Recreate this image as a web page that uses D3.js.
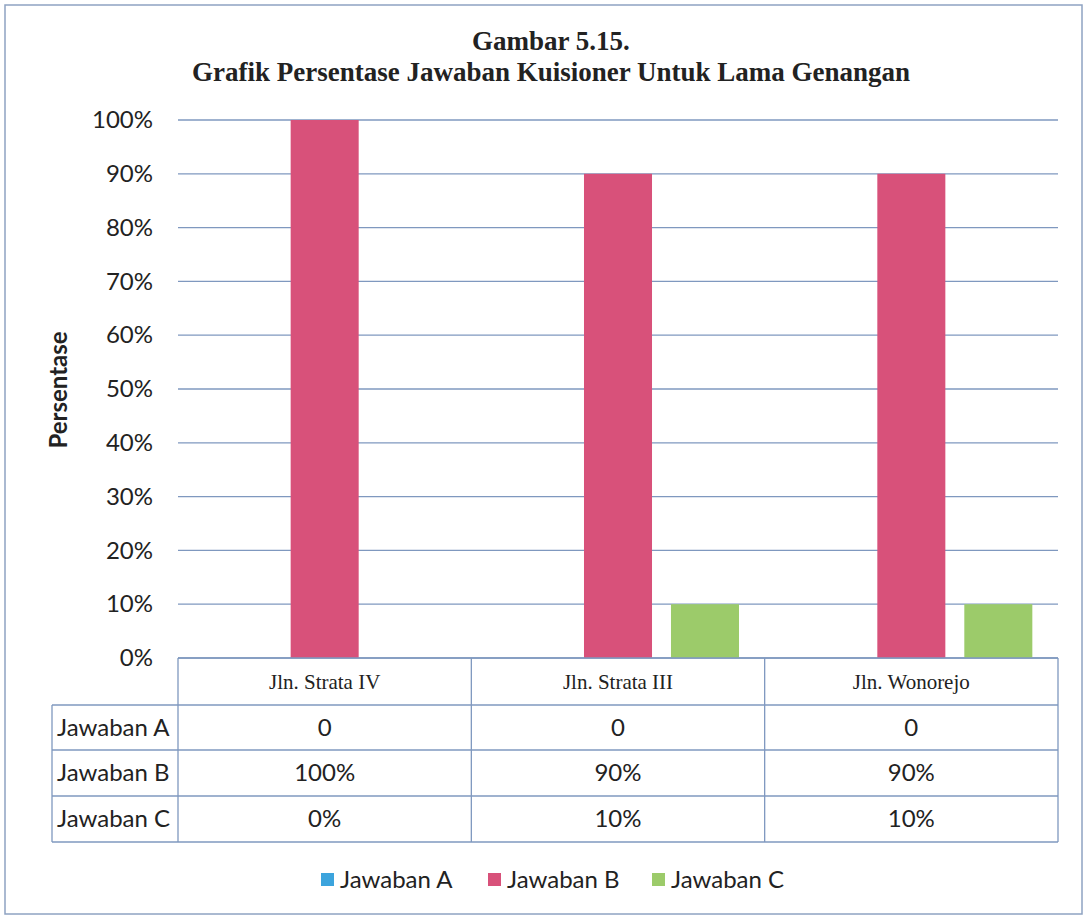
<!DOCTYPE html>
<html>
<head>
<meta charset="utf-8">
<title>Grafik Persentase Jawaban Kuisioner Untuk Lama Genangan</title>
<script src="https://cdnjs.cloudflare.com/ajax/libs/d3/7.8.5/d3.min.js"></script>
<style>
  body, html { margin: 0; padding: 0; background: #fff; }
  svg text { fill: #222; }
  .sans { font-family: Lato, "Open Sans", sans-serif; }
  .serif { font-family: "Liberation Serif", "DejaVu Serif", serif; }
</style>
</head>
<body>
<div id="chart"></div>
<script>
var categories = ['Jln. Strata IV', 'Jln. Strata III', 'Jln. Wonorejo'];
var seriesNames = ['Jawaban A', 'Jawaban B', 'Jawaban C'];
var jawabanA = [0, 0, 0];
var jawabanB = [100, 90, 90];
var jawabanC = [0, 10, 10];
var tableA = ['0', '0', '0'];
var tableB = ['100%', '90%', '90%'];
var tableC = ['0%', '10%', '10%'];
var yTicks = [0, 10, 20, 30, 40, 50, 60, 70, 80, 90, 100];
var colors = ['#3ca4dd', '#d8517a', '#9ccb6a'];

(function () {
  var W = 1085, H = 918;
  var pLeft = 178, pRight = 1058, pTop = 120, pBottom = 658;
  var rowH = [47, 45, 46, 46];

  var svg = d3.select('#chart').append('svg').attr('width', W).attr('height', H);

  // outer frame
  svg.append('rect').attr('x', 5).attr('y', 5).attr('width', W - 8).attr('height', H - 9)
    .attr('fill', 'none').attr('stroke', '#8ea3c2').attr('stroke-width', 1.5);

  // title
  svg.append('text').attr('class', 'serif').attr('x', 551).attr('y', 50)
    .attr('text-anchor', 'middle').attr('font-size', 27).attr('font-weight', 'bold')
    .text('Gambar 5.15.');
  svg.append('text').attr('class', 'serif').attr('x', 551).attr('y', 81)
    .attr('text-anchor', 'middle').attr('font-size', 27).attr('font-weight', 'bold')
    .text('Grafik Persentase Jawaban Kuisioner Untuk Lama Genangan');

  var x0 = d3.scaleBand().domain(categories).range([pLeft, pRight]).paddingInner(0.175).paddingOuter(0.0875);
  var x1 = d3.scaleBand().domain(seriesNames).range([0, x0.bandwidth()]).paddingInner(0.218);
  var y = d3.scaleLinear().domain([0, 100]).range([pBottom, pTop]);

  // gridlines
  svg.append('g').selectAll('line').data(yTicks).join('line')
    .attr('x1', pLeft).attr('x2', pRight)
    .attr('y1', function (d) { return y(d); }).attr('y2', function (d) { return y(d); })
    .attr('stroke', '#7f98bf').attr('stroke-width', 1.3);

  // y axis labels
  var yAxis = d3.axisLeft(y).tickValues(yTicks).tickSize(0).tickPadding(25)
    .tickFormat(function (d) { return d + '%'; });
  var ya = svg.append('g').attr('transform', 'translate(' + pLeft + ',0)').call(yAxis);
  ya.select('.domain').remove();
  ya.selectAll('text').attr('class', 'sans').attr('font-size', 24).style('fill', '#222');

  svg.append('text').attr('class', 'sans')
    .attr('transform', 'translate(67,390) rotate(-90)')
    .attr('text-anchor', 'middle').attr('font-size', 24).attr('font-weight', 'bold')
    .text('Persentase');

  // bars
  var series = [jawabanA, jawabanB, jawabanC];
  categories.forEach(function (c, ci) {
    svg.append('g').selectAll('rect').data(series).join('rect')
      .attr('x', function (s, si) { return x0(c) + x1(seriesNames[si]); })
      .attr('y', function (s) { return y(s[ci]); })
      .attr('width', x1.bandwidth())
      .attr('height', function (s) { return pBottom - y(s[ci]); })
      .attr('fill', function (s, si) { return colors[si]; });
  });

  // data table
  var colEdges = [pLeft].concat(categories.map(function (c, i) { return pLeft + (i + 1) * x0.step(); }));
  var tableLeft = 52;
  var rowY = [pBottom];
  rowH.forEach(function (h, i) { rowY.push(rowY[i] + h); });
  var tg = svg.append('g');
  var lineColor = '#7f98bf';

  tg.append('line').attr('x1', pLeft).attr('x2', pRight).attr('y1', rowY[0]).attr('y2', rowY[0])
    .attr('stroke', lineColor).attr('stroke-width', 1.3);
  for (var r = 1; r < rowY.length; r++) {
    tg.append('line').attr('x1', tableLeft).attr('x2', pRight).attr('y1', rowY[r]).attr('y2', rowY[r])
      .attr('stroke', lineColor).attr('stroke-width', 1.3);
  }
  colEdges.forEach(function (xv) {
    tg.append('line').attr('x1', xv).attr('x2', xv).attr('y1', rowY[0]).attr('y2', rowY[4])
      .attr('stroke', lineColor).attr('stroke-width', 1.3);
  });
  tg.append('line').attr('x1', tableLeft).attr('x2', tableLeft).attr('y1', rowY[1]).attr('y2', rowY[4])
    .attr('stroke', lineColor).attr('stroke-width', 1.3);

  // header row
  categories.forEach(function (c, ci) {
    tg.append('text').attr('class', 'serif')
      .attr('x', (colEdges[ci] + colEdges[ci + 1]) / 2).attr('y', rowY[0] + 31)
      .attr('text-anchor', 'middle').attr('font-size', 21).text(c);
  });
  var tableRows = [tableA, tableB, tableC];
  tableRows.forEach(function (row, ri) {
    var yy = rowY[ri + 1] + 31;
    tg.append('text').attr('class', 'sans').attr('x', tableLeft + 5).attr('y', yy)
      .attr('font-size', 24).text(seriesNames[ri]);
    row.forEach(function (v, ci) {
      tg.append('text').attr('class', 'sans')
        .attr('x', (colEdges[ci] + colEdges[ci + 1]) / 2).attr('y', yy)
        .attr('text-anchor', 'middle').attr('font-size', 24).text(v);
    });
  });

  // legend
  var legendX = [321, 488, 652];
  var lg = svg.append('g');
  seriesNames.forEach(function (s, i) {
    lg.append('rect').attr('x', legendX[i]).attr('y', 873).attr('width', 13).attr('height', 13)
      .attr('fill', colors[i]);
    lg.append('text').attr('class', 'sans').attr('x', legendX[i] + 19).attr('y', 888)
      .attr('font-size', 24).text(s);
  });
})();
</script>
</body>
</html>
